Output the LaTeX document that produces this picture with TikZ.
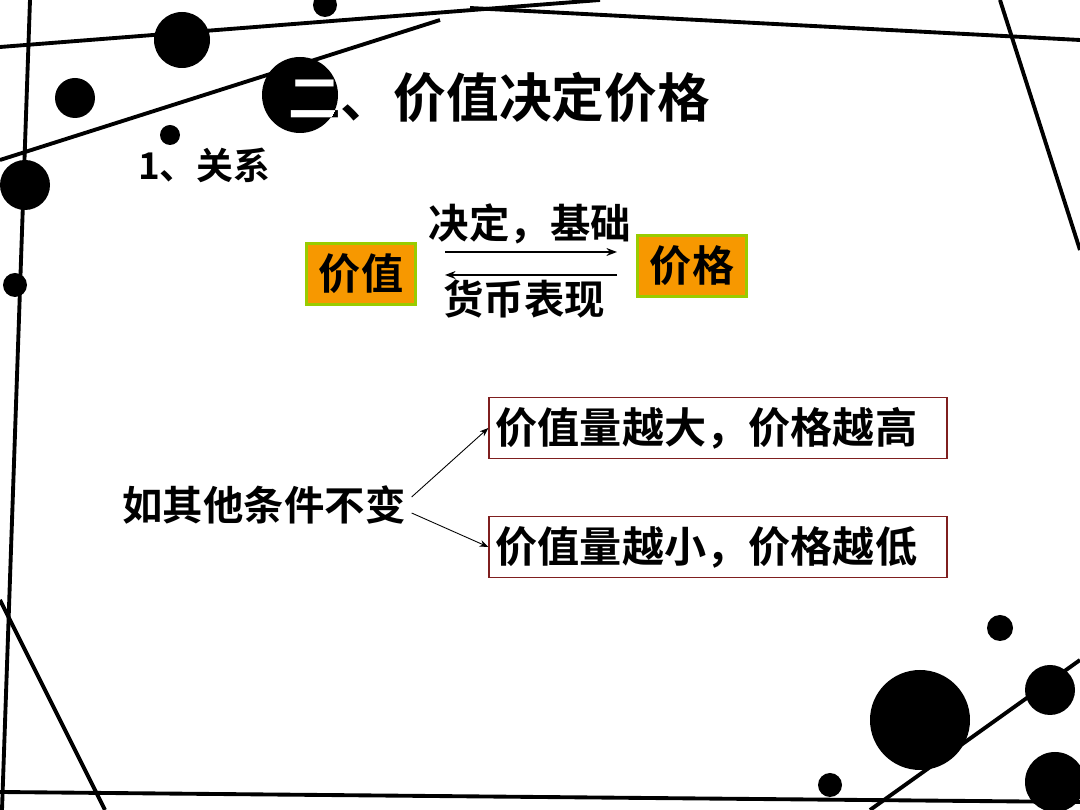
\documentclass[tikz,border=0pt]{standalone}
\usepackage{fontspec}
\setmainfont{Noto Sans CJK SC}[BoldFont={Noto Sans CJK SC Bold}]
\usetikzlibrary{positioning,arrows.meta}
\definecolor{boxorange}{HTML}{F79800}
\definecolor{boxgreen}{HTML}{99CC00}
\definecolor{boxred}{HTML}{7F1F1F}
\tikzset{
	x=0.02cm, y=-0.02cm,
	every node/.style={font=\bfseries},
	deco/.style={line width=2.2pt}, % the background lines
	dot/.style={fill=black}, % the background dots
	tag/.style={fill=boxorange, draw=boxgreen, line width=2pt, inner xsep=7pt, inner ysep=6pt, font=\bfseries\fontsize{24}{26}\selectfont},
	result/.style={draw=boxred, line width=0.8pt, minimum width=9.16cm, minimum height=1.22cm, text width=8.9cm, align=left, font=\bfseries\fontsize{24}{26}\selectfont},
	flow/.style={-{Stealth[length=6pt]}, line width=1pt},
	thin flow/.style={-{Stealth[length=5pt]}, line width=0.5pt},
}
\begin{document}
\begin{tikzpicture}
	\useasboundingbox (0,0) rectangle (1080,810);
	% background lines
	\draw[deco] (0,47) -- (600,0);
	\draw[deco] (0,160) -- (440,20);
	\draw[deco] (470,8) -- (1080,40);
	\draw[deco] (1000,0) -- (1080,250);
	\draw[deco] (30,0) -- (2,810);
	\draw[deco] (0,600) -- (105,810);
	\draw[deco] (0,792) -- (1080,802);
	\draw[deco] (870,810) -- (1080,660);
	% background dots
	\foreach \cx/\cy/\r in {182/40/28, 75/98/20, 325/5/12, 170/135/10, 25/185/25, 15/285/12,
		300/95/38, 1000/628/13, 920/720/50, 1050/690/25, 1055/782/30, 830/785/12}
		\fill[dot] (\cx,\cy) circle[radius=\r];
	% title
	\node[anchor=west, font=\bfseries\fontsize{30}{32}\selectfont] (title) at (282,97) {二、价值决定价格};
	\begin{scope}
		\clip (300,95) circle[radius=38];
		\node[anchor=west, font=\bfseries\fontsize{30}{32}\selectfont, text=white] at (282,97) {二、价值决定价格};
	\end{scope}
	\node[anchor=west, font=\bfseries\fontsize{21}{23}\selectfont] (rel) at (132,165) {1、关系};
	% value and price
	\node[tag] (value) at (361,274) {价值};
	\node[tag] (price) at (692,266) {价格};
	\coordinate (a1) at (445,252);
	\coordinate (a2) at (617,252);
	\coordinate (b1) at (617,275);
	\coordinate (b2) at (445,275);
	\draw[flow] (a1) -- (a2);
	\draw[flow] (b1) -- (b2);
	\node[font=\bfseries\fontsize{23}{25}\selectfont] (basis) at (530,224) {决定，基础};
	\node[font=\bfseries\fontsize{23}{25}\selectfont] (money) at (524,299) {货币表现};
	% condition
	\node[font=\bfseries\fontsize{23}{25}\selectfont] (cond) at (264,505) {如其他条件不变};
	\node[result] (high) at (718,428) {价值量越大，价格越高};
	\node[result] (low) at (718,547) {价值量越小，价格越低};
	\draw[thin flow] (cond.east) ++(0,-8) -- (high.west);
	\draw[thin flow] (cond.east) ++(0,8) -- (low.west);
\end{tikzpicture}
\end{document}
